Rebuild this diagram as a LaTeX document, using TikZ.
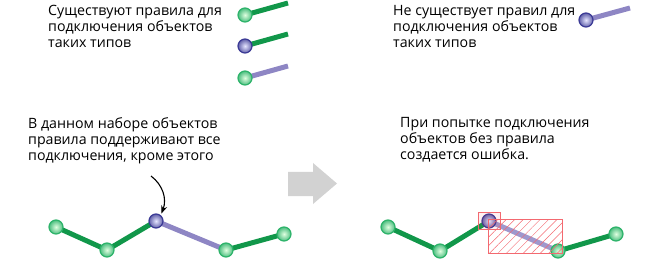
\documentclass[tikz,border=0pt]{standalone}
\usepackage{fontspec}
\setmainfont{Open Sans}
\usetikzlibrary{arrows.meta, positioning, patterns.meta, calc}

\definecolor{linkgreen}{HTML}{11974A}
\definecolor{linkpurple}{HTML}{8E86C4}
\definecolor{rimgreen}{HTML}{2DB36A}
\definecolor{rimpurple}{HTML}{3B3A95}
\definecolor{errred}{HTML}{F0444C}
\definecolor{arrowgray}{HTML}{D2D2D2}
\pgfdeclarelayer{background}
\pgfsetlayers{background,main}

\begin{document}
\begin{tikzpicture}[
		x=1pt, y=-1pt,
		>=Stealth,
		% Estilos
		gball/.style={circle, inner sep=0pt, minimum size=14pt, draw=rimgreen, line width=1.2pt, inner color=green!12!white, outer color=rimgreen!85!white},
		pball/.style={circle, inner sep=0pt, minimum size=14pt, draw=rimpurple, line width=1.2pt, inner color=blue!10!white, outer color=rimpurple!80!white},
		glink/.style={draw=linkgreen, line width=5pt},
		plink/.style={draw=linkpurple, line width=5pt},
		txt/.style={anchor=north west, align=left, inner sep=0pt, font=\fontsize{14.2}{16}\selectfont},
		errbox/.style={draw=errred!80!white, line width=0.6pt}
		]
		\useasboundingbox (0,0) rectangle (648,259);
		
		% --- LEYENDA ---
		\node [txt] (allowed) at (48,5) {Существуют правила для\\подключения объектов\\таких типов};
		\node [txt] (denied) at (393,5) {Не существует правил для\\подключения объектов\\таких типов};
		
		\node [gball] (l1) at (245,15) {};
		\node [pball] (l2) at (245,46) {};
		\node [gball] (l3) at (245,78) {};
		\node [pball] (l4) at (586,20) {};
		\coordinate (e1) at (288,3);
		\coordinate (e2) at (288,34);
		\coordinate (e3) at (288,66);
		\coordinate (e4) at (630,8);
		\begin{pgfonlayer}{background}
			\draw [glink] (l1.center) -- (e1);
			\draw [glink] (l2.center) -- (e2);
			\draw [plink] (l3.center) -- (e3);
			\draw [plink] (l4.center) -- (e4);
		\end{pgfonlayer}
		
		% --- CONJUNTO DE OBJETOS ---
		\node [txt] (note) at (28,117) {В данном наборе объектов\\правила поддерживают все\\подключения, кроме этого};
		\node [gball] (a1) at (56,227) {};
		\node [gball] (a2) at (107,250) {};
		\node [pball] (a3) at (156,221) {};
		\node [gball] (a4) at (226,250) {};
		\node [gball] (a5) at (284,234) {};
		\begin{pgfonlayer}{background}
			\draw [glink] (a1.center) -- (a2.center);
			\draw [glink] (a2.center) -- (a3.center);
			\draw [plink] (a3.center) -- (a4.center);
			\draw [glink] (a4.center) -- (a5.center);
		\end{pgfonlayer}
		\coordinate (mark) at (151,176);
		\draw [-{Stealth[length=8pt, width=6pt]}, line width=1.1pt] (mark) .. controls (163,185) and (167,199) .. ($(a3.north east)+(0,-2)$);
		
		% --- FLECHA ---
		\fill [arrowgray] (288,172) -- (313,172) -- (313,163) -- (337,183.5) -- (313,204) -- (313,196) -- (288,196) -- cycle;
		
		% --- ERROR ---
		\node [txt] (error) at (400,117) {При попытке подключения\\объектов без правила\\создается ошибка.};
		\node [gball] (b1) at (388,227) {};
		\node [gball] (b2) at (440,251) {};
		\node [pball] (b3) at (489,221) {};
		\node [gball] (b4) at (558,251) {};
		\node [gball] (b5) at (616,234) {};
		\begin{pgfonlayer}{background}
			\draw [glink] (b1.center) -- (b2.center);
			\draw [glink] (b2.center) -- (b3.center);
			\draw [plink, draw=linkpurple!85!white] (b3.center) -- (b4.center);
			\draw [glink] (b4.center) -- (b5.center);
		\end{pgfonlayer}
		\draw [errbox, pattern={Lines[angle=45, distance=6pt, line width=0.5pt]}, pattern color=errred!80!white] (488,219) rectangle (562,253);
		\draw [errbox, fill=errred, fill opacity=0.08] (478,212) rectangle (500,229);
		
	\end{tikzpicture}
\end{document}
